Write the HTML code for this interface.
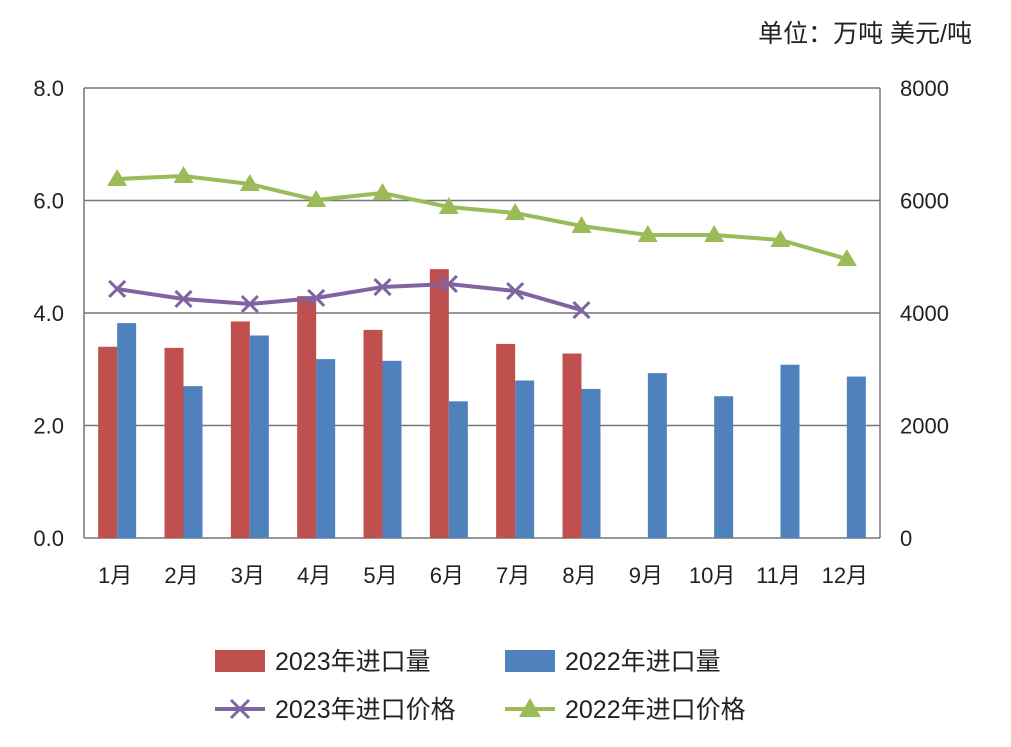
<!DOCTYPE html>
<html><head><meta charset="utf-8"><style>
body{margin:0;background:#fff;}
svg text{font-family:"Liberation Sans","Noto Sans CJK SC",sans-serif;fill:#222;}
</style></head><body>
<svg id="c" width="1011" height="742" xmlns="http://www.w3.org/2000/svg">
<text x="972" y="42" font-size="25" text-anchor="end">单位：万吨 美元/吨</text>
<g id="g"></g>
</svg>
<script>
const months=["1月","2月","3月","4月","5月","6月","7月","8月","9月","10月","11月","12月"];
const vol2023=[3.4,3.38,3.85,4.3,3.7,4.78,3.45,3.28];
const vol2022=[3.82,2.7,3.6,3.18,3.15,2.43,2.8,2.65,2.93,2.52,3.08,2.87];
const price2023=[4427,4249,4160,4267,4462,4516,4391,4053];
const price2022=[6382,6436,6293,6009,6133,5884,5778,5547,5387,5387,5298,4960];
const leftTicks=["0.0","2.0","4.0","6.0","8.0"];
const rightTicks=["0","2000","4000","6000","8000"];
const NS="http://www.w3.org/2000/svg";
const g=document.getElementById('g');
const X0=84,X1=880,Y0=538,Y1=88;
const slot=(X1-X0)/12;
const xc=i=>X0+slot*(i+0.5);
const yL=v=>Y0-(v/8)*(Y0-Y1);
const yR=v=>Y0-(v/8000)*(Y0-Y1);
function el(t,a,txt){const e=document.createElementNS(NS,t);for(const k in a)e.setAttribute(k,a[k]);if(txt!=null)e.textContent=txt;g.appendChild(e);return e;}
leftTicks.forEach((t,i)=>{const v=parseFloat(t);const y=yL(v);
 if(v>0){const l=el('line',{x1:X0,x2:X1,y1:y,y2:y,stroke:'#777','stroke-width':1.5});
 
 }
 const a=el('text',{x:X0-20,y:y+8,'font-size':22,'text-anchor':'end'},t);
 
 
});
rightTicks.forEach((t,i)=>{const y=yR(parseFloat(t));
 const a=el('text',{x:X1+20,y:y+8,'font-size':22,'text-anchor':'start'},t);
 
 
});
[X0,X1].forEach(x=>{const l=el('line',{x1:x,x2:x,y1:Y1,y2:Y0,stroke:'#777','stroke-width':1.5});
 
 });
const xa=el('line',{x1:X0,x2:X1,y1:Y0,y2:Y0,stroke:'#777','stroke-width':1.5});


const bw=19;
vol2023.forEach((v,i)=>{const r=el('rect',{x:xc(i)-bw,y:yL(v),width:bw,height:Y0-yL(v),fill:'#c0504d'});
 
 });
vol2022.forEach((v,i)=>{const r=el('rect',{x:xc(i),y:yL(v),width:bw,height:Y0-yL(v),fill:'#4f81bd'});
 
 });
months.forEach((m,i)=>{const t=el('text',{x:xc(i)-2,y:Y0+45,'font-size':22,'text-anchor':'middle'},m);
 
 });
const gp=el('polyline',{points:price2022.map((v,i)=>xc(i)+','+yR(v)).join(' '),fill:'none',stroke:'#9bbb59','stroke-width':4});


price2022.forEach((v,i)=>{const x=xc(i),y=yR(v);const p=el('polygon',{points:`${x},${y-10} ${x-10},${y+7} ${x+10},${y+7}`,fill:'#9bbb59'});
 
 });
const pp=el('polyline',{points:price2023.map((v,i)=>xc(i)+','+yR(v)).join(' '),fill:'none',stroke:'#8064a2','stroke-width':4});


price2023.forEach((v,i)=>{const x=xc(i),y=yR(v);const p=el('path',{d:`M${x-8},${y-8}L${x+8},${y+8}M${x-8},${y+8}L${x+8},${y-8}`,stroke:'#8064a2','stroke-width':3});
 
 });
// legend
function leg(x,y,type,color,label,name){
 if(type==='rect'){const r=el('rect',{x:x,y:y-11,width:50,height:22,fill:color});}
 else{const l=el('line',{x1:x,x2:x+50,y1:y,y2:y,stroke:color,'stroke-width':4});
  const cx=x+25;
  if(type==='x'){const p=el('path',{d:`M${cx-9},${y-9}L${cx+9},${y+9}M${cx-9},${y+9}L${cx+9},${y-9}`,stroke:color,'stroke-width':3});}
  else{const p=el('polygon',{points:`${cx},${y-11} ${cx-11},${y+8} ${cx+11},${y+8}`,fill:color});}}
 const t=el('text',{x:x+60,y:y+9,'font-size':25},label);
 
 
}
leg(215,661,'rect','#c0504d','2023年进口量','legend-2023-volume');
leg(505,661,'rect','#4f81bd','2022年进口量','legend-2022-volume');
leg(215,709,'x','#8064a2','2023年进口价格','legend-2023-price');
leg(505,709,'tri','#9bbb59','2022年进口价格','legend-2022-price');
</script>
</body></html>
